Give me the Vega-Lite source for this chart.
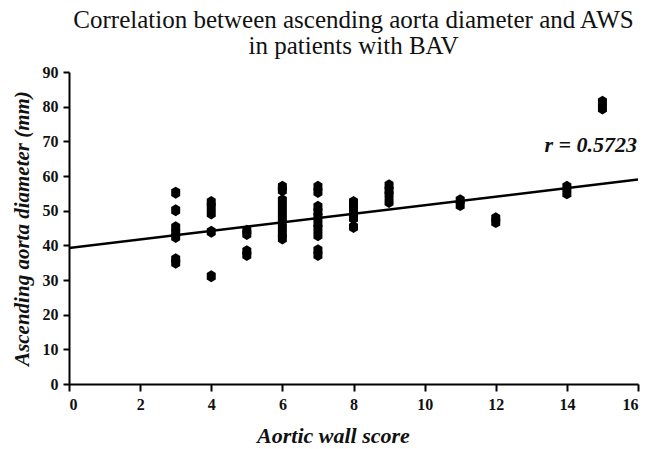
{
  "$schema": "https://vega.github.io/schema/vega-lite/v6.json",
  "autosize": {"type": "none"},
  "width": 569,
  "height": 312,
  "padding": {"left": 69, "top": 72, "right": 10, "bottom": 65},
  "background": "white",
  "config": {"view": {"stroke": null}},
  "title": {
    "text": ["Correlation between ascending aorta diameter and AWS", "in patients with BAV"],
    "font": "Liberation Serif",
    "fontSize": 25,
    "fontWeight": "normal",
    "color": "#111",
    "lineHeight": 26,
    "anchor": "middle",
    "offset": 5
  },
  "datasets": {
    "pts": [
      {"aws": 3, "d": 55.2}, {"aws": 3, "d": 50.1}, {"aws": 3, "d": 45.2}, {"aws": 3, "d": 43.6}, {"aws": 3, "d": 42.4}, {"aws": 3, "d": 36.0}, {"aws": 3, "d": 35.0},
      {"aws": 4, "d": 52.5}, {"aws": 4, "d": 51.1}, {"aws": 4, "d": 49.2}, {"aws": 4, "d": 43.9}, {"aws": 4, "d": 31.1},
      {"aws": 5, "d": 44.2}, {"aws": 5, "d": 43.3}, {"aws": 5, "d": 38.3}, {"aws": 5, "d": 37.2},
      {"aws": 6, "d": 56.9}, {"aws": 6, "d": 55.9}, {"aws": 6, "d": 53.0}, {"aws": 6, "d": 51.1}, {"aws": 6, "d": 49.2}, {"aws": 6, "d": 47.3}, {"aws": 6, "d": 45.3}, {"aws": 6, "d": 43.4}, {"aws": 6, "d": 42.0},
      {"aws": 7, "d": 56.9}, {"aws": 7, "d": 55.4}, {"aws": 7, "d": 51.1}, {"aws": 7, "d": 49.7}, {"aws": 7, "d": 48.2}, {"aws": 7, "d": 46.3}, {"aws": 7, "d": 44.9}, {"aws": 7, "d": 42.9}, {"aws": 7, "d": 38.6}, {"aws": 7, "d": 37.2},
      {"aws": 8, "d": 52.5}, {"aws": 8, "d": 51.1}, {"aws": 8, "d": 49.7}, {"aws": 8, "d": 47.8}, {"aws": 8, "d": 45.3},
      {"aws": 9, "d": 57.3}, {"aws": 9, "d": 55.9}, {"aws": 9, "d": 54.5}, {"aws": 9, "d": 52.5},
      {"aws": 11, "d": 53.0}, {"aws": 11, "d": 51.6},
      {"aws": 12, "d": 47.8}, {"aws": 12, "d": 46.7},
      {"aws": 14, "d": 56.9}, {"aws": 14, "d": 55.0},
      {"aws": 15, "d": 81.4}, {"aws": 15, "d": 79.5}
    ],
    "fit": [{"aws": 0, "d": 39.2}, {"aws": 16, "d": 59.0}],
    "lab": [{"aws": 16, "d": 69, "t": "r = 0.5723"}]
  },
  "encoding": {
    "x": {
      "field": "aws", "type": "quantitative",
      "scale": {"domain": [0, 16], "nice": false, "zero": true},
      "axis": {
        "title": "Aortic wall score",
        "values": [0, 2, 4, 6, 8, 10, 12, 14, 16],
        "tickCount": 9,
        "labelOverlap": false,
        "grid": false,
        "domainColor": "black", "domainWidth": 2,
        "tickColor": "black", "tickWidth": 2, "tickSize": 7,
        "labelFont": "Liberation Serif", "labelFontWeight": "bold", "labelFontSize": 16, "labelColor": "#111",
        "labelPadding": 5,
        "titleFont": "Liberation Serif", "titleFontStyle": "italic", "titleFontWeight": "bold", "titleFontSize": 22, "titleColor": "#111",
        "titlePadding": 13,
        "titleX": 264
      }
    },
    "y": {
      "field": "d", "type": "quantitative",
      "scale": {"domain": [0, 90], "nice": false},
      "axis": {
        "title": "Ascending aorta diameter (mm)",
        "values": [0, 10, 20, 30, 40, 50, 60, 70, 80, 90],
        "tickCount": 10,
        "labelOverlap": false,
        "grid": false,
        "domainColor": "black", "domainWidth": 2,
        "tickColor": "black", "tickWidth": 2, "tickSize": 6,
        "labelFont": "Liberation Serif", "labelFontWeight": "bold", "labelFontSize": 16, "labelColor": "#111",
        "labelPadding": 5,
        "titleFont": "Liberation Serif", "titleFontStyle": "italic", "titleFontWeight": "bold", "titleFontSize": 21, "titleColor": "#111",
        "titlePadding": 10
      }
    }
  },
  "layer": [
    {
      "data": {"name": "fit"},
      "mark": {"type": "line", "color": "black", "strokeWidth": 2.5, "clip": true}
    },
    {
      "data": {"name": "pts"},
      "mark": {"type": "point", "shape": "M0,-1L0.75,-0.55L0.75,0.55L0,1L-0.75,0.55L-0.75,-0.55Z", "filled": true, "color": "black", "opacity": 1, "size": 144}
    },
    {
      "data": {"name": "lab"},
      "mark": {"type": "text", "align": "right", "baseline": "middle", "font": "Liberation Serif", "fontStyle": "italic", "fontWeight": "bold", "fontSize": 22, "color": "#111", "dx": -1},
      "encoding": {
        "text": {"field": "t"}
      }
    }
  ]
}
